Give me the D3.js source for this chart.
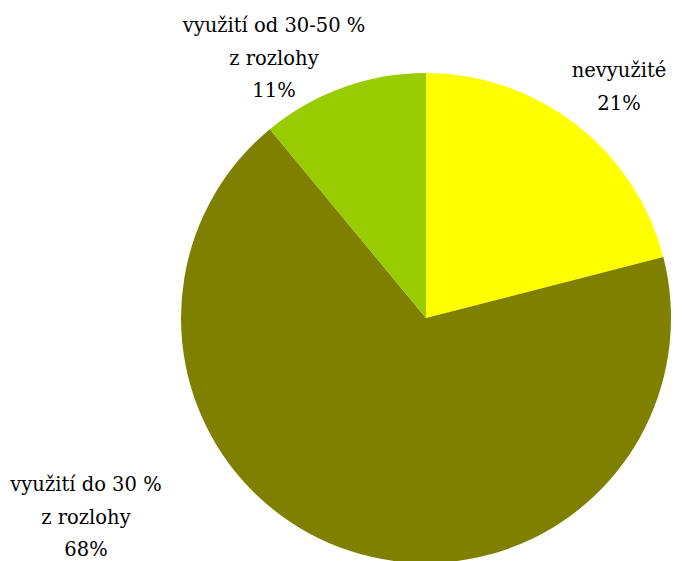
<!DOCTYPE html>
<html>
<head>
<meta charset="utf-8">
<script src="https://cdn.jsdelivr.net/npm/d3@7"></script>
<style>
  body { margin: 0; background: #fff; }
</style>
</head>
<body>
<div id="chart"></div>
<script>
// Data
const categories = ["nevyužité", "využití do 30 % z rozlohy", "využití od 30-50 % z rozlohy"];
const values = [21, 68, 11];
const colors = ["#FFFF00", "#808000", "#99CC00"];
// label lines and label anchor positions (centre x, first baseline y)
const labelLines = [
  ["nevyužité", "21%"],
  ["využití do 30 %", "z rozlohy", "68%"],
  ["využití od 30-50 %", "z rozlohy", "11%"]
];
const labelPos = [[619, 77], [86, 491], [274, 32]];

const width = 684, height = 561;
const cx = 426, cy = 318, radius = 245;

const svg = d3.select("#chart").append("svg")
    .attr("width", width)
    .attr("height", height);

const pie = d3.pie().sort(null).value(d => d);
const arc = d3.arc().innerRadius(0).outerRadius(radius);

const g = svg.append("g").attr("transform", "translate(" + cx + "," + cy + ")");

g.selectAll("path")
  .data(pie(values))
  .enter()
  .append("path")
  .attr("d", arc)
  .attr("fill", (d, i) => colors[i]);

// Labels
labelLines.forEach(function(lines, i) {
  const t = svg.append("text")
    .attr("text-anchor", "middle")
    .style("font-family", "'DejaVu Serif', serif")
    .style("font-size", "19.5px")
    .attr("fill", "#000");
  lines.forEach(function(line, j) {
    t.append("tspan")
      .attr("x", labelPos[i][0])
      .attr("y", labelPos[i][1] + j * 32.5)
      .text(line);
  });
});
</script>
</body>
</html>
